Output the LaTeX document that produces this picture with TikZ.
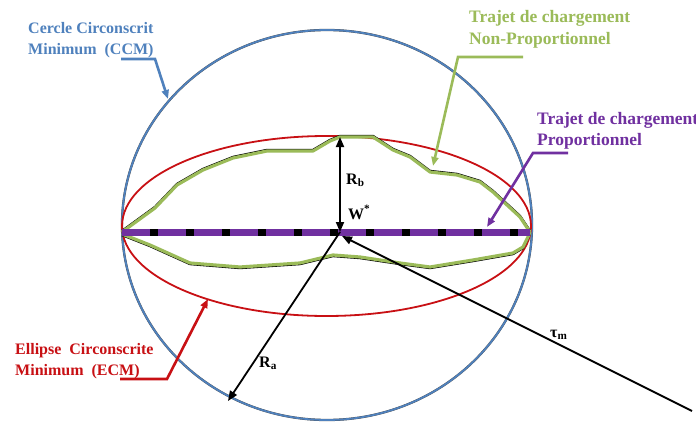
\documentclass[tikz,border=0pt]{standalone}
\usepackage{fontspec}
\setmainfont{Liberation Serif}
\usetikzlibrary{arrows.meta}
\definecolor{cblue}{RGB}{79,129,189}
\definecolor{cred}{RGB}{200,16,20}
\definecolor{cgreen}{RGB}{155,187,89}
\definecolor{cpurple}{RGB}{112,48,160}
\tikzset{
  lbl/.style={font=\bfseries\fontsize{16}{16}\selectfont, inner sep=0pt, anchor=base west},
  callout/.style={font=\bfseries\fontsize{16}{21}\selectfont, inner sep=0pt, anchor=base west, align=left},
  leader/.style={line width=2.6pt, -{Triangle[length=9pt,width=7pt]}},
  blackarrow/.style={line width=1.8pt, black, -{Triangle[length=10pt,width=8pt]}},
}
\begin{document}
\begin{tikzpicture}[x=1pt,y=-1pt]
\useasboundingbox (0,0) rectangle (696,423);
\fill[white] (0,0) rectangle (696,423);
% circle (CCM)
\draw[black!70, line width=2.3pt] (327,225) ellipse [x radius=205, y radius=195];
\draw[cblue, line width=1.8pt] (327,225) ellipse [x radius=205, y radius=195];
% ellipse (ECM)
\draw[cred, line width=1.8pt] (326.5,226) ellipse [x radius=204.5, y radius=90];
% non-proportional path (black shadow then green)
\def\upper{(122,232) -- (155,208) -- (177,185) -- (203,170) -- (233,158) -- (267,151) -- (313,151) -- (330,141) -- (340,137) -- (373,137) -- (393,150) -- (410,157) -- (430,172) -- (457,175) -- (480,182) -- (493,192) -- (507,205) -- (520,217) -- (530,232)}
\def\lower{(122,234) -- (150,245) -- (190,263) -- (240,267) -- (300,263) -- (333,255) -- (360,257) -- (400,263) -- (430,267) -- (473,260) -- (513,253) -- (523,247) -- (528,237) -- (530,232)}
\draw[black, line width=2.4pt, line join=round, yshift=1pt] \upper;
\draw[black, line width=2.4pt, line join=round, yshift=-1pt] \lower;
\draw[cgreen, line width=3.2pt, line join=round] \upper;
\draw[cgreen, line width=3.2pt, line join=round] \lower;
% proportional path
\coordinate (L) at (122,232);
\coordinate (Rt) at (530,232);
\draw[cpurple, line width=7pt] (L) -- (Rt);
\draw[black, line width=7pt, dash pattern=on 8pt off 28pt, dash phase=8pt] (L) -- (Rt);
% key points
\coordinate (W) at (340,232);
\coordinate (Top) at (340,137);
\coordinate (Ra) at (228,401);
\coordinate (TauEnd) at (692,411);
\coordinate (Wt) at (342,236);
% arrows
\draw[line width=1.8pt, {Triangle[length=10pt,width=8pt]}-{Triangle[length=10pt,width=8pt]}] (W) -- (Top);
\draw[blackarrow] (W) -- (Ra);
\draw[blackarrow] (TauEnd) -- (Wt);
% labels
\node[lbl] (rb) at (346,184) {R\textsubscript{b}};
\node[lbl] (ws) at (348,219) {W\textsuperscript{*}};
\node[lbl] (ra) at (259,367) {R\textsubscript{a}};
\node[lbl] (tau) at (550,337) {τ\textsubscript{m}};
% callouts (anchor = baseline of the last line)
\node[callout, text=cblue] (ccm) at (28,54) {Cercle Circonscrit\\Minimum~ (CCM)};
\coordinate (b1) at (121,59);
\coordinate (b2) at (155,59);
\coordinate (b3) at (168,99);
\draw[leader, cblue] (b1) -- (b2) -- (b3);

\node[callout, text=cgreen, font=\bfseries\fontsize{17.5}{21}\selectfont] (np) at (469,44) {Trajet de chargement\\Non-Proportionnel};
\coordinate (g1) at (523,57);
\coordinate (g2) at (458,57);
\coordinate (g3) at (433,166);
\draw[leader, cgreen] (g1) -- (g2) -- (g3);

\node[callout, text=cpurple, font=\bfseries\fontsize{17.5}{21}\selectfont] (pp) at (537,145) {Trajet de chargement\\Proportionnel};
\coordinate (p1) at (568,153);
\coordinate (p2) at (533,153);
\coordinate (p3) at (487,227);
\draw[leader, cpurple] (p1) -- (p2) -- (p3);

\node[callout, text=cred] (ecm) at (15,375) {Ellipse~ Circonscrite\\Minimum~ (ECM)};
\coordinate (r1) at (120,379);
\coordinate (r2) at (167,379);
\coordinate (r3) at (208,299);
\draw[leader, cred] (r1) -- (r2) -- (r3);
\end{tikzpicture}
\end{document}
